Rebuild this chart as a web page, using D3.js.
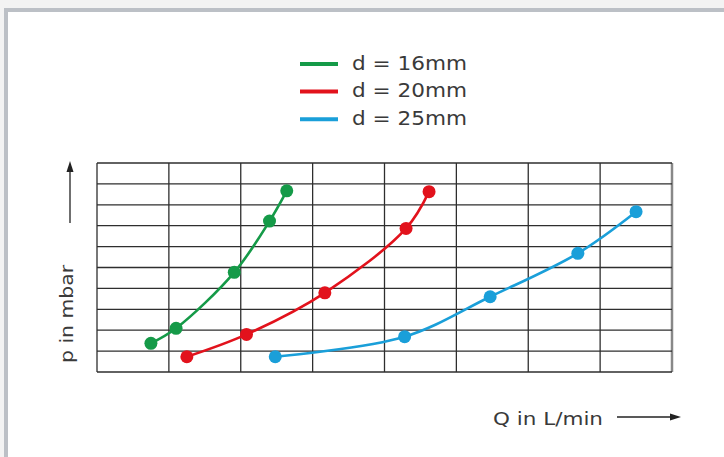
<!DOCTYPE html>
<html>
<head>
<meta charset="utf-8">
<script src="https://cdn.jsdelivr.net/npm/d3@7"></script>
<style>
	html, body { margin: 0; padding: 0; background: #f3f3f3; }
	svg { display: block; }
	text { font-family: "DejaVu Sans", sans-serif; fill: #3a3a3a; }
</style>
</head>
<body>
<svg id="chart" width="724" height="457"></svg>
<script>
// series labels + colours
const seriesNames = ["d = 16mm", "d = 20mm", "d = 25mm"];
const seriesColors = ["#159a48", "#e2121c", "#1a9fd9"];

// Q (x, in grid units) and p (y, in grid units)
const q16 = [0.75, 1.10, 1.91, 2.40, 2.64];
const p16 = [1.37, 2.09, 4.77, 7.22, 8.67];
const q20 = [1.25, 2.08, 3.17, 4.30, 4.62];
const p20 = [0.73, 1.80, 3.79, 6.87, 8.63];
const q25 = [2.48, 4.28, 5.47, 6.69, 7.50];
const p25 = [0.73, 1.69, 3.60, 5.68, 7.67];

// grid: 8 columns, 10 rows, no tick labels
const xDomain = [0, 8];
const yDomain = [0, 10];
const xLabel = "Q in L/min";
const yLabel = "p in mbar";

const svg = d3.select('#chart');

// white panel with grey border on top and left
svg.append("rect").attr("x", 4).attr("y", 8).attr("width", 720).attr("height", 449).attr("fill", "#bcc0c6");
svg.append("rect").attr("x", 8).attr("y", 12).attr("width", 716).attr("height", 445).attr("fill", "#ffffff");

const x = d3.scaleLinear().domain(xDomain).range([97, 672]);
const y = d3.scaleLinear().domain(yDomain).range([372, 163]);

//grid lines
const grid = svg.append("g").attr("stroke", "#2e2e2e").attr("stroke-width", 1.3);
x.ticks(8).forEach(t =>
	grid.append("line")
		.attr("x1", x(t)).attr("x2", x(t))
		.attr("y1", y(yDomain[0])).attr("y2", y(yDomain[1]))
		.attr("stroke", t === xDomain[1] ? "#888" : null)
		.attr("stroke-width", t === xDomain[1] ? 2.5 : null)
);
y.ticks(10).forEach(t =>
	grid.append("line")
		.attr("x1", x(xDomain[0])).attr("x2", x(xDomain[1]))
		.attr("y1", y(t)).attr("y2", y(t))
);

//series
const series = [[q16, p16], [q20, p20], [q25, p25]];
const line = d3.line().x(d => x(d[0])).y(d => y(d[1])).curve(d3.curveCatmullRom.alpha(0.5));

series.forEach((s, i) => {
	const pts = s[0].map((q, k) => [q, s[1][k]]);
	svg.append("path")
		.datum(pts)
		.attr("d", line)
		.attr("fill", "none")
		.attr("stroke", seriesColors[i])
		.attr("stroke-width", 2.6);
	svg.append("g").selectAll("circle")
		.data(pts)
		.join("circle")
		.attr("cx", d => x(d[0]))
		.attr("cy", d => y(d[1]))
		.attr("r", 6.5)
		.attr("fill", seriesColors[i]);
});

//legend
seriesNames.forEach((name, i) => {
	const yy = 64 + i * 27.6;
	svg.append("line")
		.attr("x1", 300).attr("x2", 338)
		.attr("y1", yy).attr("y2", yy)
		.attr("stroke", seriesColors[i])
		.attr("stroke-width", 4);
	svg.append("text")
		.attr("x", 352).attr("y", yy + 5.5)
		.attr("font-size", 20)
		.attr("textLength", 115)
		.attr("lengthAdjust", "spacingAndGlyphs")
		.text(name);
});

//axis labels with arrows
svg.append("text")
	.attr("x", 493).attr("y", 425)
	.attr("font-size", 18)
	.attr("textLength", 110)
	.attr("lengthAdjust", "spacingAndGlyphs")
	.text(xLabel);
svg.append("line").attr("x1", 617).attr("x2", 672).attr("y1", 417).attr("y2", 417)
	.attr("stroke", "#222").attr("stroke-width", 1.3);
svg.append("path").attr("d", "M681,417 L670,413.5 L670,420.5 Z").attr("fill", "#222");

svg.append("text")
	.attr("transform", "translate(73,363) rotate(-90)")
	.attr("font-size", 18)
	.attr("textLength", 98)
	.attr("lengthAdjust", "spacingAndGlyphs")
	.text(yLabel);
svg.append("line").attr("x1", 70).attr("x2", 70).attr("y1", 223).attr("y2", 171)
	.attr("stroke", "#222").attr("stroke-width", 1.3);
svg.append("path").attr("d", "M70,161 L66.5,172 L73.5,172 Z").attr("fill", "#222");
</script>
</body>
</html>
